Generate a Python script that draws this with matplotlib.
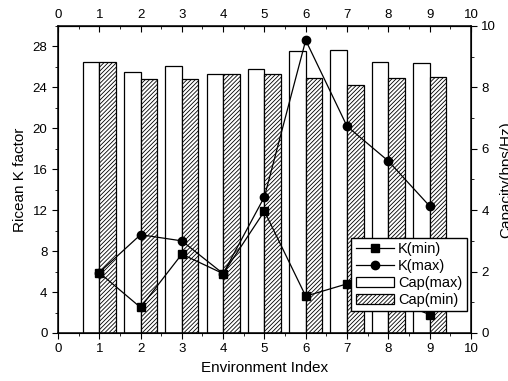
import matplotlib
matplotlib.use("Agg")
import matplotlib.pyplot as plt
from matplotlib.ticker import MultipleLocator

plt.rcParams['font.family'] = ['Liberation Sans', 'DejaVu Sans']
plt.rcParams['hatch.linewidth'] = 0.6

# data
env = [1, 2, 3, 4, 5, 6, 7, 8, 9]
k_min = [5.9, 2.5, 7.7, 5.8, 11.9, 3.6, 4.8, 3.4, 1.8]
k_max = [5.9, 9.6, 9.0, 5.8, 13.3, 28.6, 20.2, 16.8, 12.4]
cap_max = [8.83, 8.51, 8.69, 8.45, 8.59, 9.19, 9.21, 8.83, 8.79]
cap_min = [8.83, 8.27, 8.27, 8.45, 8.45, 8.30, 8.07, 8.30, 8.34]

fig = plt.figure(figsize=(5.08, 3.81), dpi=100)
ax = fig.add_axes([0.114, 0.126, 0.813, 0.806])
ax2 = ax.twinx()

# bars on the capacity axis
w = 0.4
b1 = ax2.bar([e - w / 2 for e in env], cap_max, width=w, color='white',
             edgecolor='black', linewidth=0.9, label='Cap(max)')
b2 = ax2.bar([e + w / 2 for e in env], cap_min, width=w, color='white',
             edgecolor='black', hatch='////////', linewidth=0.9, label='Cap(min)')

# lines on the K axis, drawn above bars
ax.set_zorder(ax2.get_zorder() + 1)
ax.patch.set_visible(False)
l1, = ax.plot(env, k_min, 's-', color='black', ms=6, lw=0.9, label='K(min)')
l2, = ax.plot(env, k_max, 'o-', color='black', ms=6, lw=0.9, label='K(max)')

ax.set_xlim(0, 10)
ax.set_ylim(0, 30)
ax2.set_ylim(0, 10)
ax.xaxis.set_major_locator(MultipleLocator(1))
ax.xaxis.set_minor_locator(MultipleLocator(0.5))
ax.yaxis.set_major_locator(MultipleLocator(4))
ax.yaxis.set_minor_locator(MultipleLocator(2))
ax2.yaxis.set_major_locator(MultipleLocator(2))
ax2.yaxis.set_minor_locator(MultipleLocator(1))

ax.tick_params(which='both', direction='out', labelsize=9.5)
ax.tick_params(which='major', length=4)
ax.tick_params(which='minor', length=2.5)
ax2.tick_params(which='both', direction='out', labelsize=9.5)
ax2.tick_params(which='major', length=4)
ax2.tick_params(which='minor', length=2.5)

top = ax.secondary_xaxis('top')
top.xaxis.set_major_locator(MultipleLocator(1))
top.xaxis.set_minor_locator(MultipleLocator(0.5))
top.tick_params(which='both', direction='in', labelsize=9.5)
top.tick_params(which='major', length=4)
top.tick_params(which='minor', length=2.5)

for s in ax.spines.values():
    s.set_linewidth(1.1)

ax.set_xlabel('Environment Index', fontsize=11)
ax.set_ylabel('Ricean K factor', fontsize=11)
ax2.set_ylabel('Capacity(bps/Hz)', fontsize=11, labelpad=2)

ax.legend(handles=[l1, l2, b1, b2], loc='lower right',
          bbox_to_anchor=(0.99, 0.07), fontsize=10.5, frameon=True,
          fancybox=False, edgecolor='black', framealpha=1,
          handlelength=2.6, handletextpad=0.3, borderpad=0.3,
          labelspacing=0.2, borderaxespad=0)

fig.savefig('out.png', dpi=100)
